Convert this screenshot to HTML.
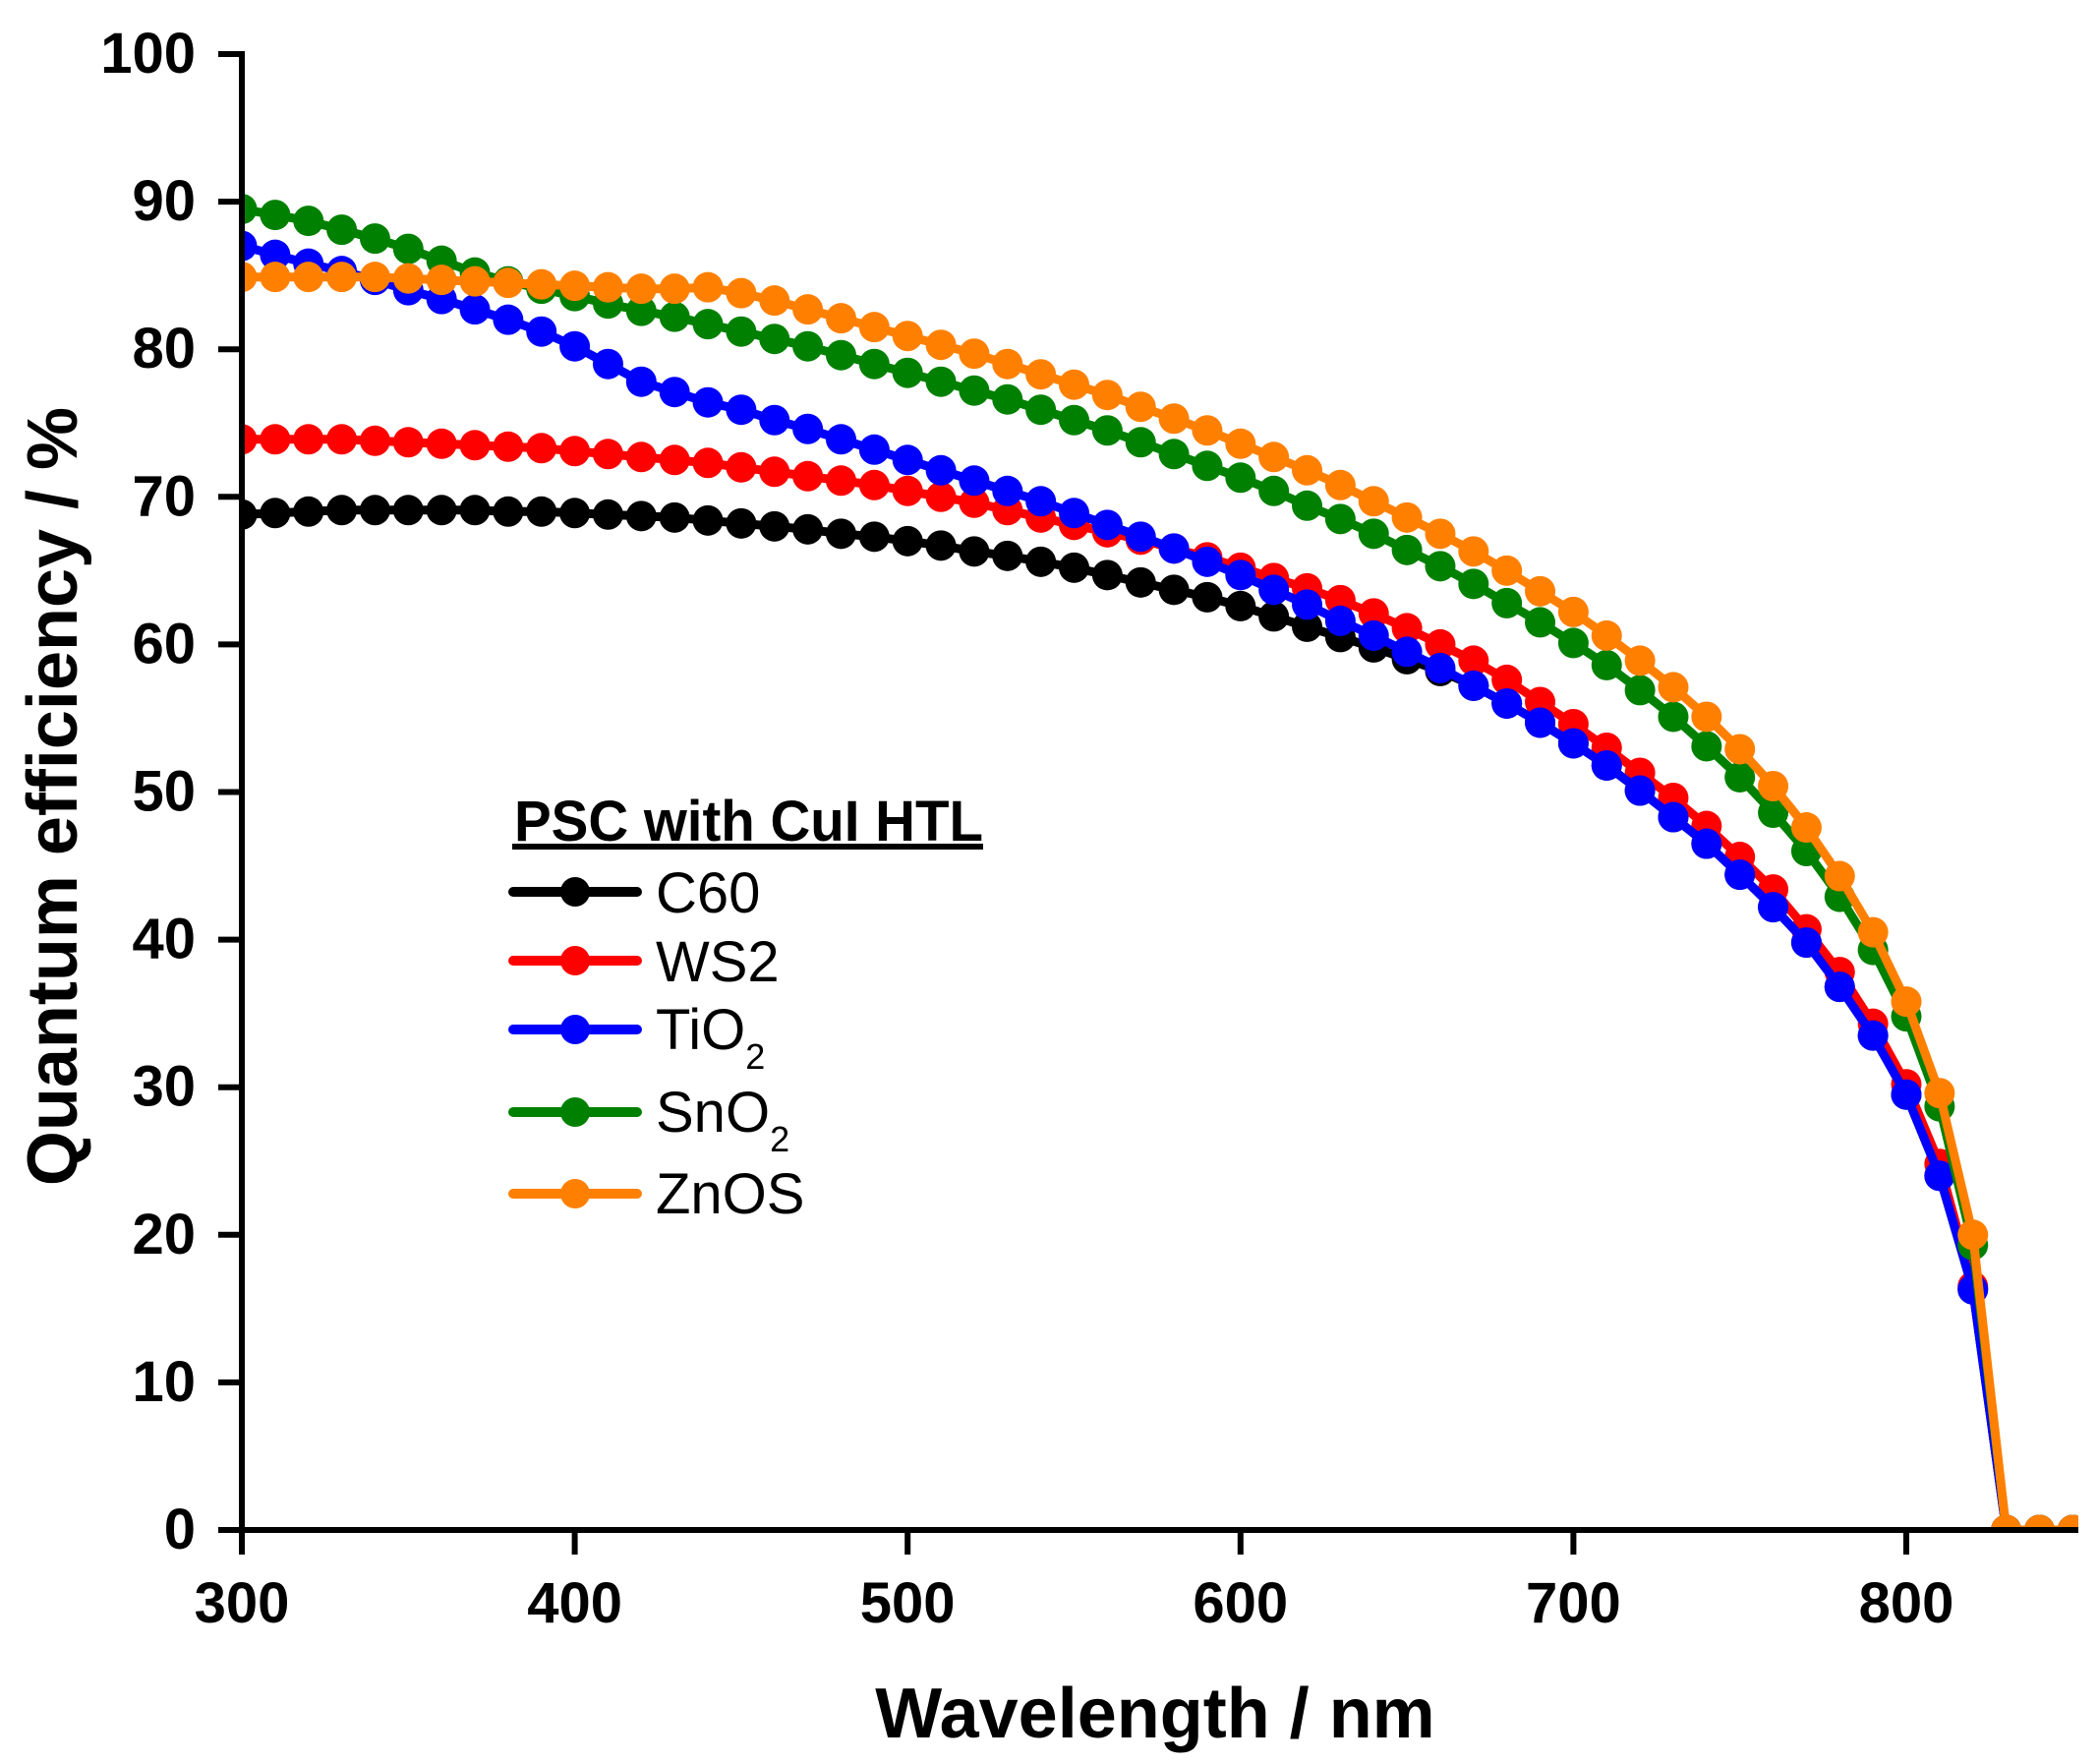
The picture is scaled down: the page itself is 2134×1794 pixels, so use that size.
<!DOCTYPE html>
<html><head><meta charset="utf-8"><style>
html,body{margin:0;padding:0;background:#fff}
svg{display:block}
text{font-family:"Liberation Sans",Arial,sans-serif}
</style></head><body>
<svg id="s" xmlns="http://www.w3.org/2000/svg" width="2134" height="1794" viewBox="0 0 2134 1794">
<defs><clipPath id="c"><rect x="246" y="0" width="1868" height="1556"/></clipPath></defs>
<g id="data" clip-path="url(#c)"></g>
<g stroke="#000" stroke-width="6" fill="none">
<line x1="246" y1="52" x2="246" y2="1559"/>
<line x1="243" y1="1556" x2="2114" y2="1556"/>
</g>
<g id="ticks" stroke="#000" stroke-width="6"></g>
<g id="lbl" font-weight="bold" font-size="58"></g>
<text x="1175" y="1767" font-size="72" font-weight="bold" text-anchor="middle">Wavelength / nm</text>
<text transform="translate(78,810) rotate(-90)" font-size="72" font-weight="bold" text-anchor="middle">Quantum efficiency / %</text>
<text x="523" y="855" font-size="58" font-weight="bold" textLength="477" lengthAdjust="spacingAndGlyphs">PSC with CuI HTL</text>
<rect x="521" y="858" width="479" height="6" fill="#000"/>
<g id="leg"></g>
<g font-size="58">
<text x="667" y="928">C60</text>
<text x="667" y="998">WS2</text>
<text x="667" y="1067">TiO<tspan font-size="36" dy="20">2</tspan></text>
<text x="667" y="1151">SnO<tspan font-size="36" dy="20">2</tspan></text>
<text x="667" y="1234">ZnOS</text>
</g>
</svg>
<script>
var NS="http://www.w3.org/2000/svg";
function X(w){return 246+(w-300)*3.386}
function Y(v){return 1556-v*15.01}
function el(p,t,a){var e=document.createElementNS(NS,t);for(var k in a)e.setAttribute(k,a[k]);p.appendChild(e);return e}
var tail=[57.2,56,54.7,53.3,51.8,50.1,48.3,46.5,44.4,42.2,39.8,36.8,33.5,29.5,24,16.3,0,0,0];
var C60=[68.8,68.9,69,69.1,69.1,69.1,69.1,69.1,69,69,68.9,68.8,68.7,68.6,68.4,68.2,68,67.8,67.5,67.3,67,66.7,66.3,66,65.6,65.2,64.7,64.2,63.7,63.2,62.6,61.9,61.2,60.5,59.8,59,58.2].concat(tail);
var TiO=[87,86.4,85.8,85.3,84.7,84,83.4,82.7,82,81.2,80.2,79,77.8,77.1,76.4,75.9,75.2,74.6,73.9,73.2,72.5,71.8,71.1,70.4,69.7,68.9,68.1,67.3,66.5,65.6,64.7,63.7,62.7,61.6,60.6,59.5,58.4].concat(tail);
var WS2=[73.9,73.9,73.9,73.9,73.8,73.7,73.6,73.5,73.4,73.3,73.1,72.9,72.7,72.5,72.3,72,71.7,71.4,71.1,70.8,70.4,70,69.6,69.1,68.6,68.1,67.6,67.1,66.5,65.9,65.2,64.5,63.8,63,62.1,61.1,60,58.9,57.6,56.1,54.6,53,51.3,49.6,47.7,45.6,43.4,40.7,37.8,34.3,30.2,24.8,16.5,0,0,0];
var Sn=[89.5,89.1,88.7,88.1,87.5,86.8,86,85.2,84.6,84.1,83.6,83.1,82.6,82.2,81.7,81.2,80.7,80.2,79.6,79,78.4,77.8,77.2,76.6,75.9,75.2,74.5,73.7,72.9,72.1,71.3,70.4,69.4,68.5,67.5,66.4,65.3,64.1,62.8,61.5,60.1,58.6,56.9,55.1,53.1,51,48.6,46,42.9,39.3,34.8,28.7,19.3,0,0,0];
var Zn=[84.9,84.9,84.9,84.9,84.9,84.8,84.7,84.6,84.5,84.4,84.3,84.2,84.1,84.1,84.2,83.8,83.3,82.7,82.1,81.5,80.9,80.3,79.7,79,78.3,77.6,76.9,76.1,75.3,74.5,73.6,72.7,71.8,70.8,69.7,68.6,67.5,66.3,65,63.6,62.2,60.6,58.9,57.1,55.1,52.9,50.4,47.6,44.3,40.5,35.8,29.6,20,0,0,0];
var S=[[C60,"#000"],[WS2,"#ff0000"],[TiO,"#0000ff"],[Sn,"#008000"],[Zn,"#ff8000"]];
var d=document.getElementById("data");
S.forEach(function(s){
 var pts=s[0].map(function(v,i){return X(300+10*i).toFixed(1)+","+Y(v).toFixed(1)}).join(" ");
 el(d,"polyline",{points:pts,fill:"none",stroke:s[1],"stroke-width":9,"stroke-linejoin":"round"});
 s[0].forEach(function(v,i){el(d,"circle",{cx:X(300+10*i),cy:Y(v),r:15.5,fill:s[1]})});
});
var t=document.getElementById("ticks"),l=document.getElementById("lbl");
for(var v=0;v<=100;v+=10){var y=Y(v);el(t,"line",{x1:222,y1:y,x2:246,y2:y});var tx=el(l,"text",{x:199,y:y+19,"text-anchor":"end"});tx.textContent=v;}
for(var w=300;w<=800;w+=100){var x=X(w);el(t,"line",{x1:x,y1:1556,x2:x,y2:1581});var tx=el(l,"text",{x:x,y:1650,"text-anchor":"middle"});tx.textContent=w;}
var lg=document.getElementById("leg"),ly=[907,977,1047,1131,1214];
S.forEach(function(s,i){el(lg,"line",{x1:522,y1:ly[i],x2:648,y2:ly[i],stroke:s[1],"stroke-width":10,"stroke-linecap":"round"});el(lg,"circle",{cx:585,cy:ly[i],r:15,fill:s[1]});});
</script>
</body></html>
